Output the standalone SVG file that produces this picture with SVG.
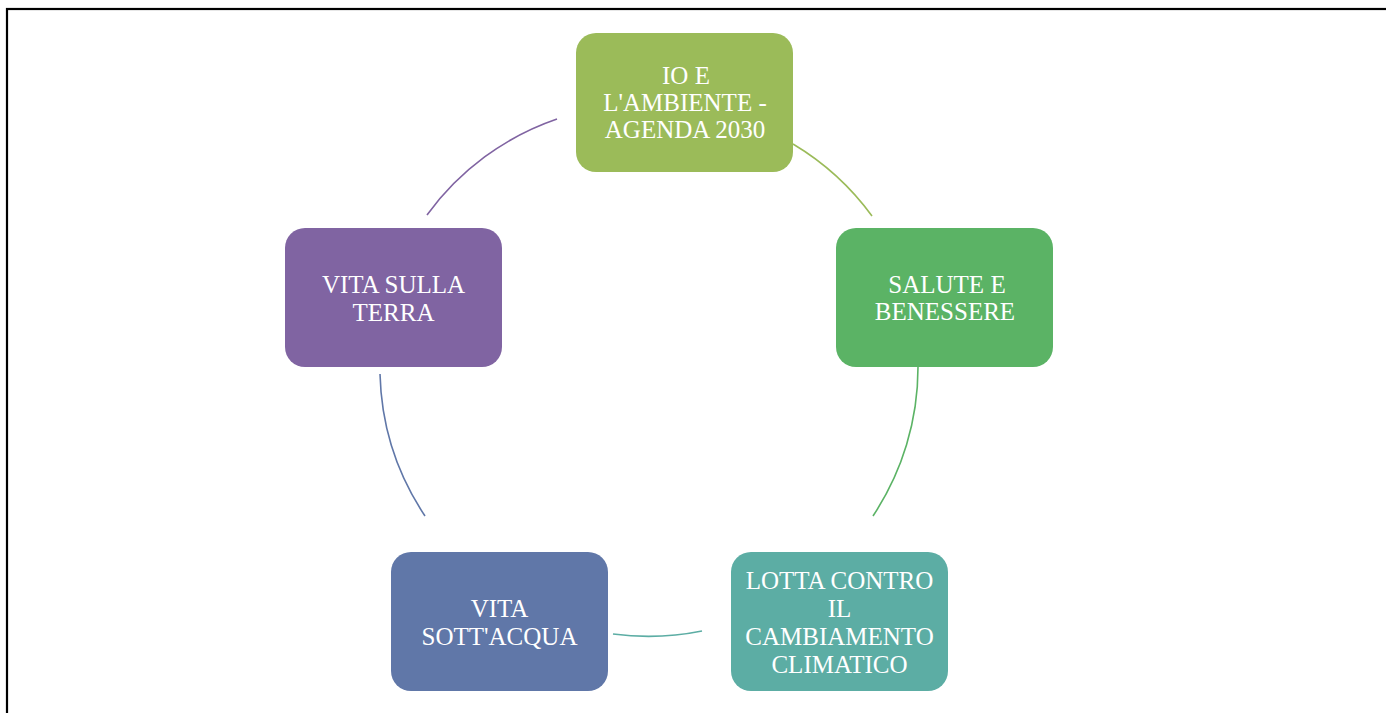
<svg xmlns="http://www.w3.org/2000/svg" width="1386" height="713" viewBox="0 0 1386 713">
<style>
.lbl{font-family:"Liberation Serif","Times New Roman",serif;font-size:25px;fill:#ffffff;text-anchor:middle}
.arc{fill:none;stroke-width:1.6}
</style>
<rect x="0" y="0" width="1386" height="713" fill="#ffffff"/>
<rect x="7" y="9" width="1395" height="720" fill="none" stroke="#000000" stroke-width="2.2"/>
<g id="connectors">
<path class="arc" stroke="#9BBB59" d="M 793 144 A 268 268 0 0 1 872 216"/>
<path class="arc" stroke="#5BB365" d="M 918 367 A 268 268 0 0 1 873 516"/>
<path class="arc" stroke="#5CADA4" d="M 702 631 A 268 268 0 0 1 613 634"/>
<path class="arc" stroke="#6077A8" d="M 425 516 A 268 268 0 0 1 380 374"/>
<path class="arc" stroke="#8064A2" d="M 427 215 A 268 268 0 0 1 557 119"/>
</g>
<g id="node-top">
<rect x="576" y="33" width="217" height="139" rx="20" fill="#9BBB59"/>
<text class="lbl"><tspan x="686" y="84">IO E</tspan><tspan x="685" y="111">L'AMBIENTE -</tspan><tspan x="685" y="138">AGENDA 2030</tspan></text>
</g>
<g id="node-right">
<rect x="836" y="228" width="217" height="139" rx="20" fill="#5BB365"/>
<text class="lbl"><tspan x="947" y="293">SALUTE E</tspan><tspan x="945" y="320">BENESSERE</tspan></text>
</g>
<g id="node-bottom-right">
<rect x="731" y="552" width="217" height="139" rx="20" fill="#5CADA4"/>
<text class="lbl"><tspan x="839.5" y="589">LOTTA CONTRO</tspan><tspan x="839.5" y="617">IL</tspan><tspan x="839.5" y="645">CAMBIAMENTO</tspan><tspan x="839.5" y="673">CLIMATICO</tspan></text>
</g>
<g id="node-bottom-left">
<rect x="391" y="552" width="217" height="139" rx="20" fill="#6077A8"/>
<text class="lbl"><tspan x="499.5" y="617">VITA</tspan><tspan x="499.5" y="645">SOTT'ACQUA</tspan></text>
</g>
<g id="node-left">
<rect x="285" y="228" width="217" height="139" rx="20" fill="#8064A2"/>
<text class="lbl"><tspan x="393.5" y="293">VITA SULLA</tspan><tspan x="393.5" y="321">TERRA</tspan></text>
</g>
</svg>
